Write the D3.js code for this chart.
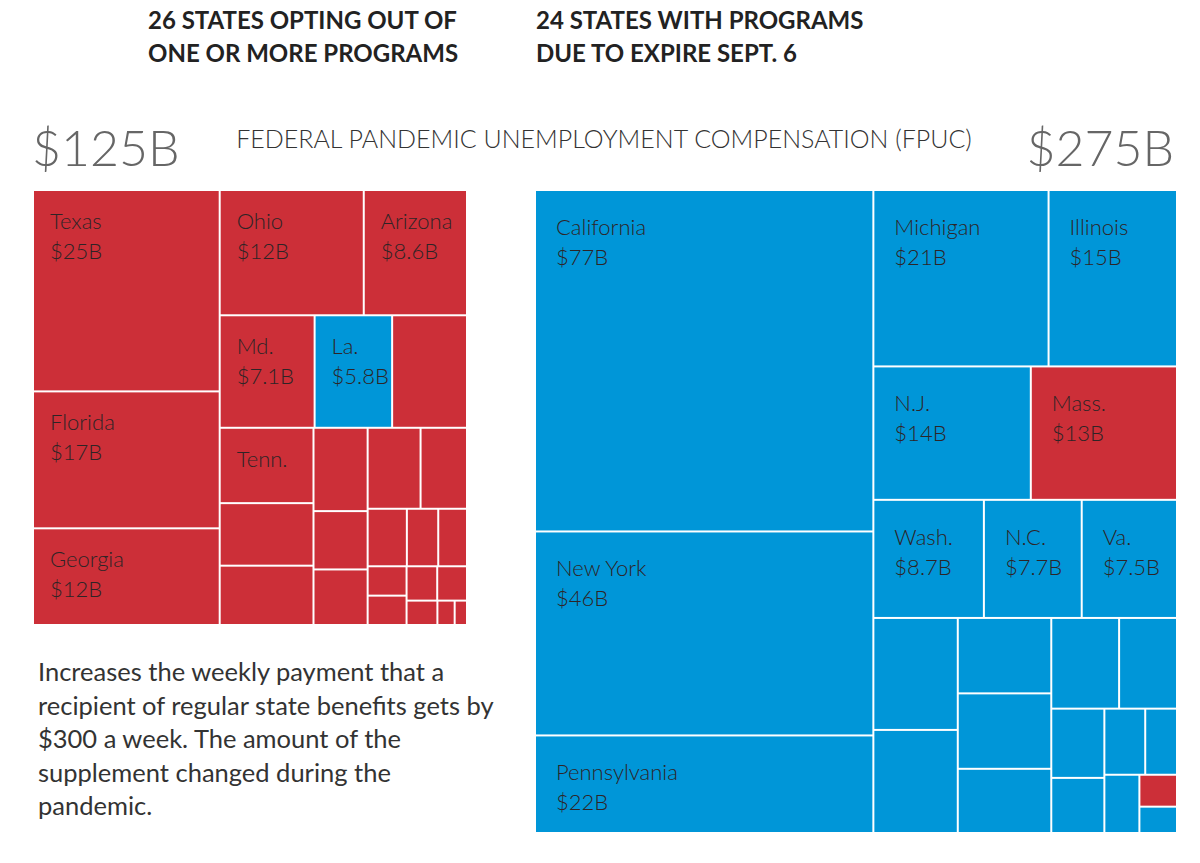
<!DOCTYPE html>
<html><head><meta charset="utf-8">
<script src="https://cdn.jsdelivr.net/npm/d3@7"></script>
<style>body{margin:0;background:#fff}svg{font-family:Lato,"Open Sans",sans-serif}</style>
</head><body><svg width="1200" height="863"></svg>
<script>
// Leaf values ($B) with labels; nested arrays describe grouping (alternate horizontal/vertical splits)
const leftNames  = ["Texas","Florida","Georgia","Ohio","Arizona","Md.","La.","","Tenn.","","","","","","","","","","","","","","","","",""];
const leftValues = [25,17,12,12,8.6,7.1,5.8,5.6,4.7,3.9,3.7,3.0,2.1,2.0,2.85,2.5,1.5,1.2,1.1,0.76,0.76,0.7,0.68,0.5,0.28,0.2];
const leftShown  = ["$25B","$17B","$12B","$12B","$8.6B","$7.1B","$5.8B","","","","","","","","","","","","","","","","","","",""];
const leftColor  = ["r","r","r","r","r","r","b","r","r","r","r","r","r","r","r","r","r","r","r","r","r","r","r","r","r","r"];
const leftGroups = [[0,1,2],[[3,4],[5,6,7],[[8,9,10],[11,12,13],[[14,15],[16,17,18],[[19,20],[[21,22],[23,24,25]]]]]]];

const rightNames  = ["California","New York","Pennsylvania","Michigan","Illinois","N.J.","Mass.","Wash.","N.C.","Va.","","","","","","","","","","","","","",""];
const rightValues = [77,46,22,20.6,15.1,14,13,8.7,7.7,7.5,6.3,5.8,4.7,4.7,4.0,4.1,3.5,2.45,1.95,1.8,1.4,1.36,0.8,0.66];
const rightShown  = ["$77B","$46B","$22B","$21B","$15B","$14B","$13B","$8.7B","$7.7B","$7.5B","","","","","","","","","","","","","",""];
const rightColor  = ["b","b","b","b","b","b","r","b","b","b","b","b","b","b","b","b","b","b","b","b","b","b","r","b"];
const rightGroups = [[0,1,2],[[3,4],[5,6],[7,8,9],[[10,11],[12,13,14],[[15,16],[[17,18],[[19,20],[21,[22,23]]]]]]]];

const headings = [["26 STATES OPTING OUT OF","ONE OR MORE PROGRAMS"],["24 STATES WITH PROGRAMS","DUE TO EXPIRE SEPT. 6"]];
const totals = ["$125B","$275B"];
const title = "FEDERAL PANDEMIC UNEMPLOYMENT COMPENSATION (FPUC)";
const para = ["Increases the weekly payment that a","recipient of regular state benefits gets by","$300 a week. The amount of the","supplement changed during the","pandemic."];

const COL = {r:"#cc2f38", b:"#0096d8"};
const svg = d3.select("svg");

headings.forEach((h,i)=>{
  const x = [148,536][i];
  h.forEach((t,j)=>svg.append("text").attr("x",x).attr("y",29+j*33).
    attr("font-size",24).attr("font-weight",700).attr("fill","#222").text(t));
});
svg.append("text").attr("x",32).attr("y",166).attr("font-size",50).attr("font-weight",300).attr("fill","#666").text(totals[0]);
svg.append("text").attr("x",1174).attr("y",166).attr("text-anchor","end").attr("font-size",50).attr("font-weight",300).attr("fill","#666").text(totals[1]);
svg.append("text").attr("x",604).attr("y",148).attr("text-anchor","middle").attr("font-size",25).attr("font-weight",300).attr("fill","#333").text(title);
para.forEach((t,i)=>svg.append("text").attr("x",38).attr("y",681+i*33.5).attr("font-size",25.5).attr("fill","#333").text(t));

function build(g, depth, names, values, shown, colors){
  if (typeof g === "number") return {name:names[g], v:values[g], s:shown[g], c:colors[g]};
  return {dir: depth%2===0 ? "x" : "y", children: g.map(k=>build(k, depth+1, names, values, shown, colors))};
}
function tile(node,x0,y0,x1,y1){
  (node.data.dir==="x" ? d3.treemapDice : d3.treemapSlice)(node,x0,y0,x1,y1);
}
function draw(groups, names, values, shown, colors, x0, y0, w, h, fs, dx, dy){
  const root = d3.hierarchy(build(groups,0,names,values,shown,colors)).sum(d=>d.v||0);
  d3.treemap().size([w,h]).paddingInner(2).tile(tile)(root);
  const g = svg.append("g").attr("transform",`translate(${x0},${y0})`);
  const cell = g.selectAll("g").data(root.leaves()).join("g");
  cell.append("rect").attr("x",d=>d.x0).attr("y",d=>d.y0)
    .attr("width",d=>Math.max(0,d.x1-d.x0)).attr("height",d=>Math.max(0,d.y1-d.y0))
    .attr("fill",d=>COL[d.data.c]);
  cell.append("text").attr("x",d=>d.x0+dx).attr("y",d=>d.y0+dy).attr("font-size",fs).attr("font-weight",300)
    .attr("fill","#2e2426").text(d=>d.data.name);
  cell.append("text").attr("x",d=>d.x0+dx).attr("y",d=>d.y0+dy+30).attr("font-size",fs).attr("font-weight",300)
    .attr("fill","#2e2426").text(d=>d.data.s);
}
draw(leftGroups,leftNames,leftValues,leftShown,leftColor,34,191,432,433,22,16,38);
draw(rightGroups,rightNames,rightValues,rightShown,rightColor,536,191,640,641,22,20,44);
</script></body></html>
